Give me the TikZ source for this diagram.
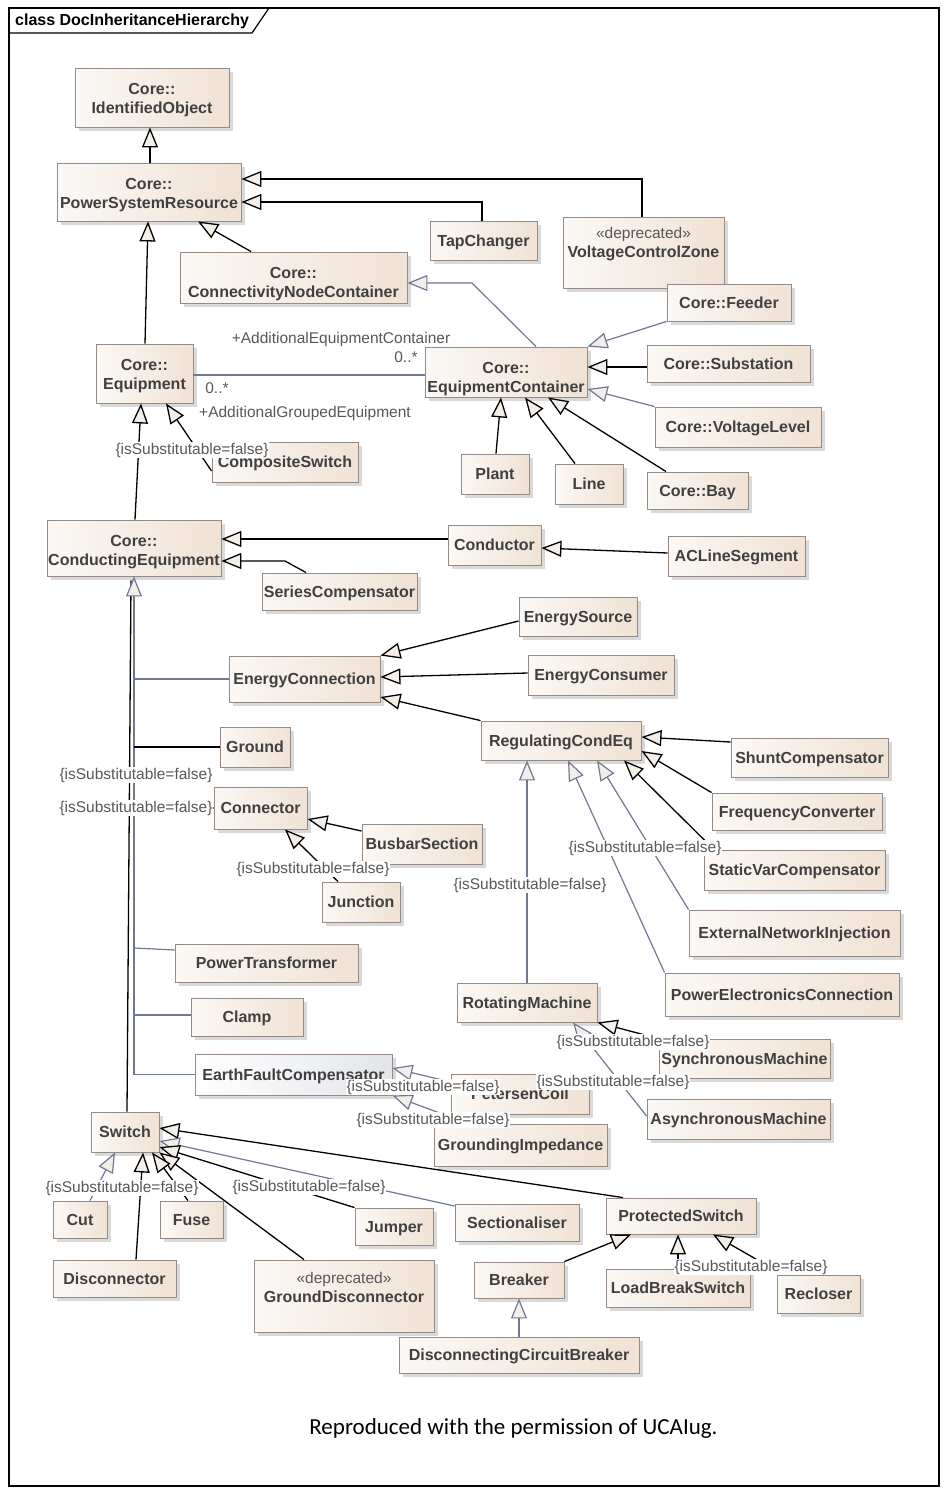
\documentclass[tikz,border=0pt]{standalone}
\usepackage{fontspec}
\setmainfont{Liberation Sans}
\newfontfamily\capfont{Carlito}
\usetikzlibrary{arrows.meta,shadows,calc}
\definecolor{clsL}{HTML}{FBF8F5}
\definecolor{clsR}{HTML}{F0E2D4}
\definecolor{clsBorder}{HTML}{968B84}
\definecolor{clsText}{HTML}{404040}
\definecolor{lblText}{HTML}{585858}
\definecolor{bgrey}{HTML}{6F7895}
\definecolor{tipFill}{HTML}{F4EEE9}
\definecolor{efcR}{HTML}{E3E5EA}
\tikzset{
 cls/.style={draw=clsBorder, line width=0.9pt, left color=clsL, right color=clsR, inner sep=0pt, align=center, text=clsText, text depth=0pt, font=\fontsize{16}{19}\selectfont\bfseries, drop shadow={shadow xshift=3.5pt, shadow yshift=-3.5pt, fill=black, opacity=0.15}},
 efc/.style={cls, left color=white, right color=efcR},
 clsname/.style={inner sep=0pt, align=center, text=clsText, font=\fontsize{16}{19}\selectfont\bfseries},
 twoline/.style={label={[clsname, anchor=north, yshift=-15.5pt]north:{#1}}},
 lbl/.style={fill=white, inner sep=0.5pt, text=lblText, font=\fontsize{15.5}{18}\selectfont},
 gen/.style={draw=black, line width=1.3pt, -{Triangle[length=20pt,width=16pt,fill=tipFill]}},
 genb/.style={draw=bgrey, line width=1.2pt, -{Triangle[length=20pt,width=16pt,fill=tipFill]}},
 plainb/.style={draw=bgrey, line width=1.2pt},
 plaink/.style={draw=black, line width=1.3pt},
}
\newcommand{\stereo}{{\normalfont\fontsize{15.5}{19}\selectfont\color{lblText}«deprecated»}}
\begin{document}
\begin{tikzpicture}[x=1pt,y=-1pt]
\useasboundingbox (0,0) rectangle (947,1494);
\fill[white] (0,0) rectangle (947,1494);
% frame
\draw[line width=1.2pt] (9,8) rectangle (939,1486);
\draw[line width=1.2pt] (9,33) -- (252,33) -- (269,8);
\node[anchor=west, inner sep=0pt, font=\fontsize{16}{19}\selectfont\bfseries] (title) at (15,21) {class DocInheritanceHierarchy};

% classes
\node[cls, minimum width=154pt, minimum height=59pt, twoline={Core::\\IdentifiedObject}] (IO) at (152,97.5) {};
\node[cls, minimum width=184pt, minimum height=58pt, twoline={Core::\\PowerSystemResource}] (PSR) at (149,192) {};
\node[cls, minimum width=227pt, minimum height=51pt, twoline={Core::\\ConnectivityNodeContainer}] (CNC) at (293.5,277.5) {};
\node[cls, minimum width=107pt, minimum height=39pt] (TC) at (483.5,240.5) {TapChanger};
\node[cls, minimum width=161pt, minimum height=71pt] (VCZ) at (643.5,252.5) {};
\node[clsname] (VCZt) at (643.5,244.5) {\stereo\\VoltageControlZone};
\node[cls, minimum width=124pt, minimum height=37pt] (Feeder) at (729,302.5) {Core::Feeder};
\node[cls, minimum width=162pt, minimum height=50pt, twoline={Core::\\EquipmentContainer}] (EC) at (506,372) {};
\node[cls, minimum width=163pt, minimum height=37pt] (Sub) at (728.5,363.5) {Core::Substation};
\node[cls, minimum width=166pt, minimum height=40pt] (VL) at (738,427) {Core::VoltageLevel};
\node[cls, minimum width=68pt, minimum height=40pt] (Plant) at (495,474) {Plant};
\node[cls, minimum width=68pt, minimum height=40pt] (Line) at (589,484) {Line};
\node[cls, minimum width=101pt, minimum height=37pt] (Bay) at (697.5,490.5) {Core::Bay};
\node[cls, minimum width=97pt, minimum height=59pt, twoline={Core::\\Equipment}] (Eq) at (144.5,373.5) {};
\node[cls, minimum width=146pt, minimum height=40pt] (CS) at (285,462) {CompositeSwitch};
\node[cls, minimum width=174pt, minimum height=56pt, twoline={Core::\\ConductingEquipment}] (CE) at (134,548) {};
\node[cls, minimum width=155pt, minimum height=37pt] (SC) at (339.5,591.5) {SeriesCompensator};
\node[cls, minimum width=93pt, minimum height=40pt] (Cond) at (494.5,545) {Conductor};
\node[cls, minimum width=137pt, minimum height=40pt] (ACLS) at (736.5,556) {ACLineSegment};
\node[cls, minimum width=118pt, minimum height=39pt] (ES) at (578,616.5) {EnergySource};
\node[cls, minimum width=146pt, minimum height=40pt] (ECons) at (601,675) {EnergyConsumer};
\node[cls, minimum width=160pt, minimum height=39pt] (RCE) at (561,740.5) {RegulatingCondEq};
\node[cls, minimum width=157pt, minimum height=39pt] (Shunt) at (809.5,757.5) {ShuntCompensator};
\node[cls, minimum width=170pt, minimum height=37pt] (FC) at (797,811.5) {FrequencyConverter};
\node[cls, minimum width=181pt, minimum height=40pt] (SVC) at (794.5,870) {StaticVarCompensator};
\node[cls, minimum width=151pt, minimum height=46pt] (EnC) at (304.5,679) {EnergyConnection};
\node[cls, minimum width=70pt, minimum height=40pt] (Ground) at (255,747) {Ground};
\node[cls, minimum width=93pt, minimum height=42pt] (Conn) at (260.5,808) {Connector};
\node[cls, minimum width=120pt, minimum height=40pt] (BS) at (422,844) {BusbarSection};
\node[cls, minimum width=78pt, minimum height=40pt] (Junc) at (361,902) {Junction};
\node[cls, minimum width=211pt, minimum height=46pt] (ENI) at (794.5,933) {ExternalNetworkInjection};
\node[cls, minimum width=234pt, minimum height=43pt] (PEC) at (782,994.5) {PowerElectronicsConnection};
\node[cls, minimum width=140pt, minimum height=39pt] (RM) at (527,1002.5) {RotatingMachine};
\node[cls, minimum width=171pt, minimum height=39pt] (SM) at (744.5,1058.5) {SynchronousMachine};
\node[cls, minimum width=183pt, minimum height=40pt] (AM) at (738.5,1119) {AsynchronousMachine};
\node[cls, minimum width=138pt, minimum height=40pt] (PC) at (520,1094) {PetersenCoil};
\node[cls, minimum width=173pt, minimum height=42pt] (GI) at (520.5,1145) {GroundingImpedance};
\node[cls, minimum width=183pt, minimum height=38pt] (PT) at (266.5,963) {PowerTransformer};
\node[cls, minimum width=112pt, minimum height=38pt] (Clamp) at (247,1017) {Clamp};
\node[efc, minimum width=197pt, minimum height=41pt] (EFC) at (293.5,1074.5) {EarthFaultCompensator};
\node[cls, minimum width=68pt, minimum height=40pt] (Switch) at (125,1132) {Switch};
\node[cls, minimum width=54pt, minimum height=37pt] (Cut) at (80,1219.5) {Cut};
\node[cls, minimum width=63pt, minimum height=37pt] (Fuse) at (191.5,1219.5) {Fuse};
\node[cls, minimum width=123pt, minimum height=37pt] (Disc) at (114.5,1278.5) {Disconnector};
\node[cls, minimum width=180pt, minimum height=72pt] (GD) at (344,1296) {};
\node[clsname] (GDt) at (344,1287.5) {\stereo\\GroundDisconnector};
\node[cls, minimum width=78pt, minimum height=37pt] (Jumper) at (394,1226.5) {Jumper};
\node[cls, minimum width=124pt, minimum height=37pt] (Sect) at (517,1222.5) {Sectionaliser};
\node[cls, minimum width=150pt, minimum height=36pt] (PS) at (681,1216) {ProtectedSwitch};
\node[cls, minimum width=90pt, minimum height=36pt] (Breaker) at (519,1280) {Breaker};
\node[cls, minimum width=144pt, minimum height=38pt] (LBS) at (678,1288) {LoadBreakSwitch};
\node[cls, minimum width=83pt, minimum height=38pt] (Rec) at (818.5,1294) {Recloser};
\node[cls, minimum width=240pt, minimum height=36pt] (DCB) at (519,1355) {DisconnectingCircuitBreaker};

% connectors, upper part
\draw[gen] (PSR.north -| 150,0) -- (IO.south -| 150,0);
\draw[gen] (TC.north -| 482,0) |- (PSR.east |- 0,202);
\draw[gen] (VCZ.north -| 642,0) |- (PSR.east |- 0,179);
\draw[gen] (CNC.north -| 251,0) -- (PSR.south -| 198,0);
\draw[gen] (Eq.north -| 145,0) -- (PSR.south -| 148,0);
\draw[genb] (EC.north -| 536,0) -- (472,283) -- (CNC.east |- 0,283);
\draw[genb] (Feeder.south west) -- (EC.north east);
\draw[gen] (Sub.west |- 0,367) -- (EC.east |- 0,367);
\draw[genb] (VL.north west) -- (EC.east |- 0,389);
\draw[gen] (Plant.north -| 496,0) -- (EC.south -| 501,0);
\draw[gen] (Line.north -| 575,0) -- (EC.south -| 525,0);
\draw[gen] (Bay.north -| 666,0) -- (EC.south -| 548,0);
\draw[plainb] (Eq.east |- 0,375) -- (EC.west |- 0,375);
\draw[gen] (CE.north -| 135,0) -- (Eq.south -| 141,0);
\draw[gen] (CS.west |- 0,471) -- (Eq.south -| 166,0);
\draw[gen] (Cond.west |- 0,539) -- (CE.east |- 0,539);
\draw[gen] (SC.north -| 306,0) -- (285,561) -- (CE.east |- 0,561);
\draw[gen] (ACLS.west |- 0,553) -- (Cond.east |- 0,548);
\draw[gen] (ES.west |- 0,621) -- (EnC.north east);
\draw[gen] (ECons.west |- 0,673) -- (EnC.east |- 0,677);
\draw[gen] (RCE.north west) -- (EnC.east |- 0,697);
\draw[gen] (Shunt.west |- 0,742) -- (RCE.east |- 0,737);
\draw[gen] (FC.north west) -- (RCE.east |- 0,751);
\draw[gen] (SVC.north -| 714,0) -- (RCE.south -| 624,0);
\draw[genb] (ENI.north west) -- (RCE.south -| 597,0);
\draw[genb] (PEC.north west) -- (RCE.south -| 568,0);
\draw[genb] (RM.north -| 527,0) -- (RCE.south -| 527,0);
\draw[gen] (SM.north west) -- (RM.south east);
\draw[genb] (AM.west |- 0,1116) -- (RM.south -| 573,0);
\draw[gen] (BS.west |- 0,831) -- (Conn.east |- 0,819);
\draw[gen] (Junc.north -| 338,0) -- (Conn.south -| 285,0);

% trunk below ConductingEquipment
\coordinate (trunkTop) at ($(CE.south)+(0,22)$);
\coordinate (trunkBot) at (CE.south |- EFC.west);
\draw[plaink] (Switch.north -| 127,0) -- ($(CE.south)+(-3,4)$);
\draw[plainb, line width=2.8pt] (trunkBot) -- (trunkTop);
\draw[genb] (trunkTop) -- (CE.south);
\draw[plainb] (EnC.west) -- (EnC.west -| trunkTop);
\draw[plaink] (Ground.west) -- (Ground.west -| trunkTop);
\draw[plainb] (Conn.west) -- (Conn.west -| trunkTop);
\draw[plainb] (PT.west |- 0,950) -- (trunkTop |- 0,948);
\draw[plainb] (Clamp.west |- 0,1015) -- (trunkTop |- 0,1015);
\draw[plainb] (EFC.west) -- (trunkBot);
\draw[genb] (PC.west |- 0,1082) -- (EFC.east |- 0,1068);
\draw[genb] (GI.north -| 468,0) -- (EFC.south east);

% switches
\draw[gen] (PS.north -| 623,0) -- (Switch.east |- 0,1128);
\draw[genb] (Sect.west |- 0,1206) -- (Switch.east |- 0,1141);
\draw[gen] (Jumper.north west) -- (Switch.east |- 0,1147);
\draw[gen] (GD.north -| 304,0) -- (Switch.south east);
\draw[gen] (Fuse.north -| 188,0) -- (Switch.south -| 152,0);
\draw[gen] (Disc.north -| 136,0) -- (Switch.south -| 143,0);
\draw[genb] (Cut.north -| 90,0) -- (Switch.south -| 115,0);
\draw[gen] (Breaker.north east) -- (PS.south -| 631,0);
\draw[gen] (LBS.north -| 678,0) -- (PS.south -| 678,0);
\draw[gen] (Rec.north -| 783,0) -- (PS.south -| 713,0);
\draw[genb] (DCB.north -| 519,0) -- (Breaker.south -| 519,0);

% labels
\node[lbl] (aec) at (341,339) {+AdditionalEquipmentContainer};
\node[lbl] (m1) at (406,357) {0..*};
\node[lbl] (m2) at (217,388) {0..*};
\node[lbl] (age) at (305,413) {+AdditionalGroupedEquipment};
\node[lbl] (L1) at (192,450) {\{isSubstitutable=false\}};
\node[lbl] (L2) at (136,775) {\{isSubstitutable=false\}};
\node[lbl] (L3) at (136,808) {\{isSubstitutable=false\}};
\node[lbl] (L4) at (313,869) {\{isSubstitutable=false\}};
\node[lbl] (L5) at (645,848) {\{isSubstitutable=false\}};
\node[lbl] (L6) at (530,885) {\{isSubstitutable=false\}};
\node[lbl] (L7) at (633,1042) {\{isSubstitutable=false\}};
\node[lbl] (L8) at (613,1082) {\{isSubstitutable=false\}};
\node[lbl] (L9) at (423,1087) {\{isSubstitutable=false\}};
\node[lbl] (L10) at (433,1120) {\{isSubstitutable=false\}};
\node[lbl] (L11) at (122,1188) {\{isSubstitutable=false\}};
\node[lbl] (L12) at (309,1187) {\{isSubstitutable=false\}};
\node[lbl] (L13) at (751,1267) {\{isSubstitutable=false\}};

\node[inner sep=0pt, font=\capfont\fontsize{23}{27}\selectfont] (cap) at (513.5,1428) {Reproduced with the permission of UCAIug.};
\end{tikzpicture}
\end{document}
